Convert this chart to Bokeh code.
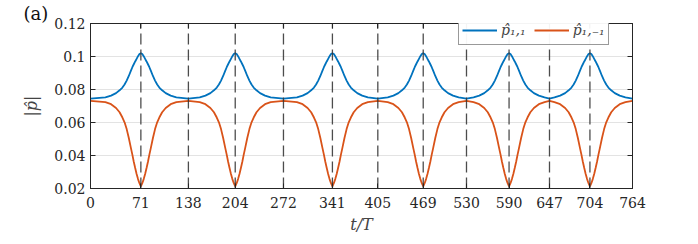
import numpy as np
from bokeh.plotting import figure
from bokeh.models import (FixedTicker, LinearAxis, Range1d, Legend, LegendItem,
                          Title, ColumnDataSource)
from bokeh.embed import file_html
from bokeh.resources import INLINE

# ---- data ----
tick_vals = [0, 71, 138, 204, 272, 341, 405, 469, 530, 590, 647, 704, 764]
peak_centres = [71, 204, 341, 469, 590, 704]
flat_points = [0, 138, 272, 405, 530, 647, 764]
dashed_lines = [71, 138, 204, 272, 341, 405, 469, 530, 590, 647, 704]

# profile of one peak / dip (offset from centre in t/T units)
offsets = [0, 2, 4, 6, 8, 10, 12, 14, 17, 20, 23, 26, 30, 35, 42, 50]
blue_profile = [0.1020, 0.1015, 0.1002, 0.0986, 0.0970, 0.0953, 0.0935, 0.0914,
                0.0882, 0.0854, 0.0830, 0.0812, 0.0795, 0.0778, 0.0763, 0.0752]
orange_profile = [0.0213, 0.0232, 0.0257, 0.0288, 0.0324, 0.0362, 0.0405, 0.0445,
                  0.0506, 0.0560, 0.0601, 0.0630, 0.0662, 0.0688, 0.0711, 0.0723]
blue_base = 0.0745
orange_base = 0.0731

y_ticks = [0.02, 0.04, 0.06, 0.08, 0.10, 0.12]
y_labels = ["0.02", "0.04", "0.06", "0.08", "0.1", "0.12"]

# ---- assemble curves ----
def build(profile, base):
    pts = [(t, base) for t in flat_points]
    for c in peak_centres:
        for o, v in zip(offsets, profile):
            pts.append((c - o, v))
            if o != 0:
                pts.append((c + o, v))
    pts.sort()
    return [p[0] for p in pts], [p[1] for p in pts]

bt, bv = build(blue_profile, blue_base)
ot, ov = build(orange_profile, orange_base)

FONT = "DejaVu Serif"
AX = "#262626"

p = figure(width=690, height=236, output_backend="svg", toolbar_location=None,
           x_range=Range1d(0, 764), y_range=Range1d(0.02, 0.12),
           min_border_left=90, min_border_right=58, min_border_top=0,
           min_border_bottom=43, x_axis_location=None, y_axis_location=None)
p.outline_line_color = AX
p.outline_line_width = 1

def style_axis(ax, labels=True):
    ax.axis_line_color = AX
    ax.major_tick_line_color = AX
    ax.major_tick_in = 5
    ax.major_tick_out = 0
    ax.minor_tick_line_color = None
    ax.major_label_text_font = FONT
    ax.major_label_text_font_size = "14px"
    ax.major_label_text_color = AX
    if not labels:
        ax.major_label_text_font_size = "0px"
        ax.major_label_text_color = None
        ax.major_label_standoff = 0

xb = LinearAxis(ticker=FixedTicker(ticks=tick_vals))
style_axis(xb)
xb.axis_label = "t/T"
xb.axis_label_text_font = FONT
xb.axis_label_text_font_style = "italic"
xb.axis_label_text_font_size = "16px"
xb.axis_label_standoff = 4
xb.major_label_standoff = 8
p.add_layout(xb, "below")

xt = LinearAxis(ticker=FixedTicker(ticks=tick_vals))
style_axis(xt, labels=False)
p.add_layout(xt, "above")

yl = LinearAxis(ticker=FixedTicker(ticks=y_ticks))
style_axis(yl)
yl.major_label_overrides = {t: l for t, l in zip(y_ticks, y_labels)}
yl.axis_label = "|p\u0302|"
yl.axis_label_text_font = FONT
yl.axis_label_text_font_style = "italic"
yl.axis_label_text_font_size = "16px"
yl.axis_label_standoff = 10
yl.major_label_standoff = 5
p.add_layout(yl, "left")

yr = LinearAxis(ticker=FixedTicker(ticks=y_ticks))
style_axis(yr, labels=False)
p.add_layout(yr, "right")

p.xgrid.visible = False
p.ygrid.ticker = FixedTicker(ticks=y_ticks)
p.ygrid.grid_line_color = "#e3e3e3"
p.ygrid.grid_line_width = 1

r1 = p.line(bt, bv, line_color="#0072BD", line_width=1.8)
r2 = p.line(ot, ov, line_color="#D95319", line_width=1.8)

ds = ColumnDataSource(dict(x=dashed_lines, y0=[0.02] * len(dashed_lines),
                           y1=[0.12] * len(dashed_lines)))
p.segment(x0="x", y0="y0", x1="x", y1="y1", source=ds, line_color="#383838",
          line_width=1.3, line_dash="11 5", line_alpha=0.9)

legend = Legend(items=[LegendItem(label="p\u0302\u2081,\u2081", renderers=[r1]),
                       LegendItem(label="p\u0302\u2081,\u208b\u2081", renderers=[r2])],
                orientation="horizontal", location=(368, 143))
legend.margin = 0
legend.padding = 3
legend.spacing = 8
legend.glyph_width = 35
legend.glyph_height = 22
legend.label_height = 22
legend.label_text_font = FONT
legend.label_text_font_style = "italic"
legend.label_text_font_size = "14px"
legend.label_text_baseline = "middle"
legend.border_line_color = "#333333"
legend.border_line_width = 1
legend.label_standoff = 4
p.add_layout(legend, "center")

p.add_layout(Title(text="(a)", align="left", offset=-67, standoff=0,
                   text_font=FONT, text_font_size="18px",
                   text_font_style="normal", text_color="#111111"), "above")

open("out.html", "w").write(file_html(p, INLINE))
